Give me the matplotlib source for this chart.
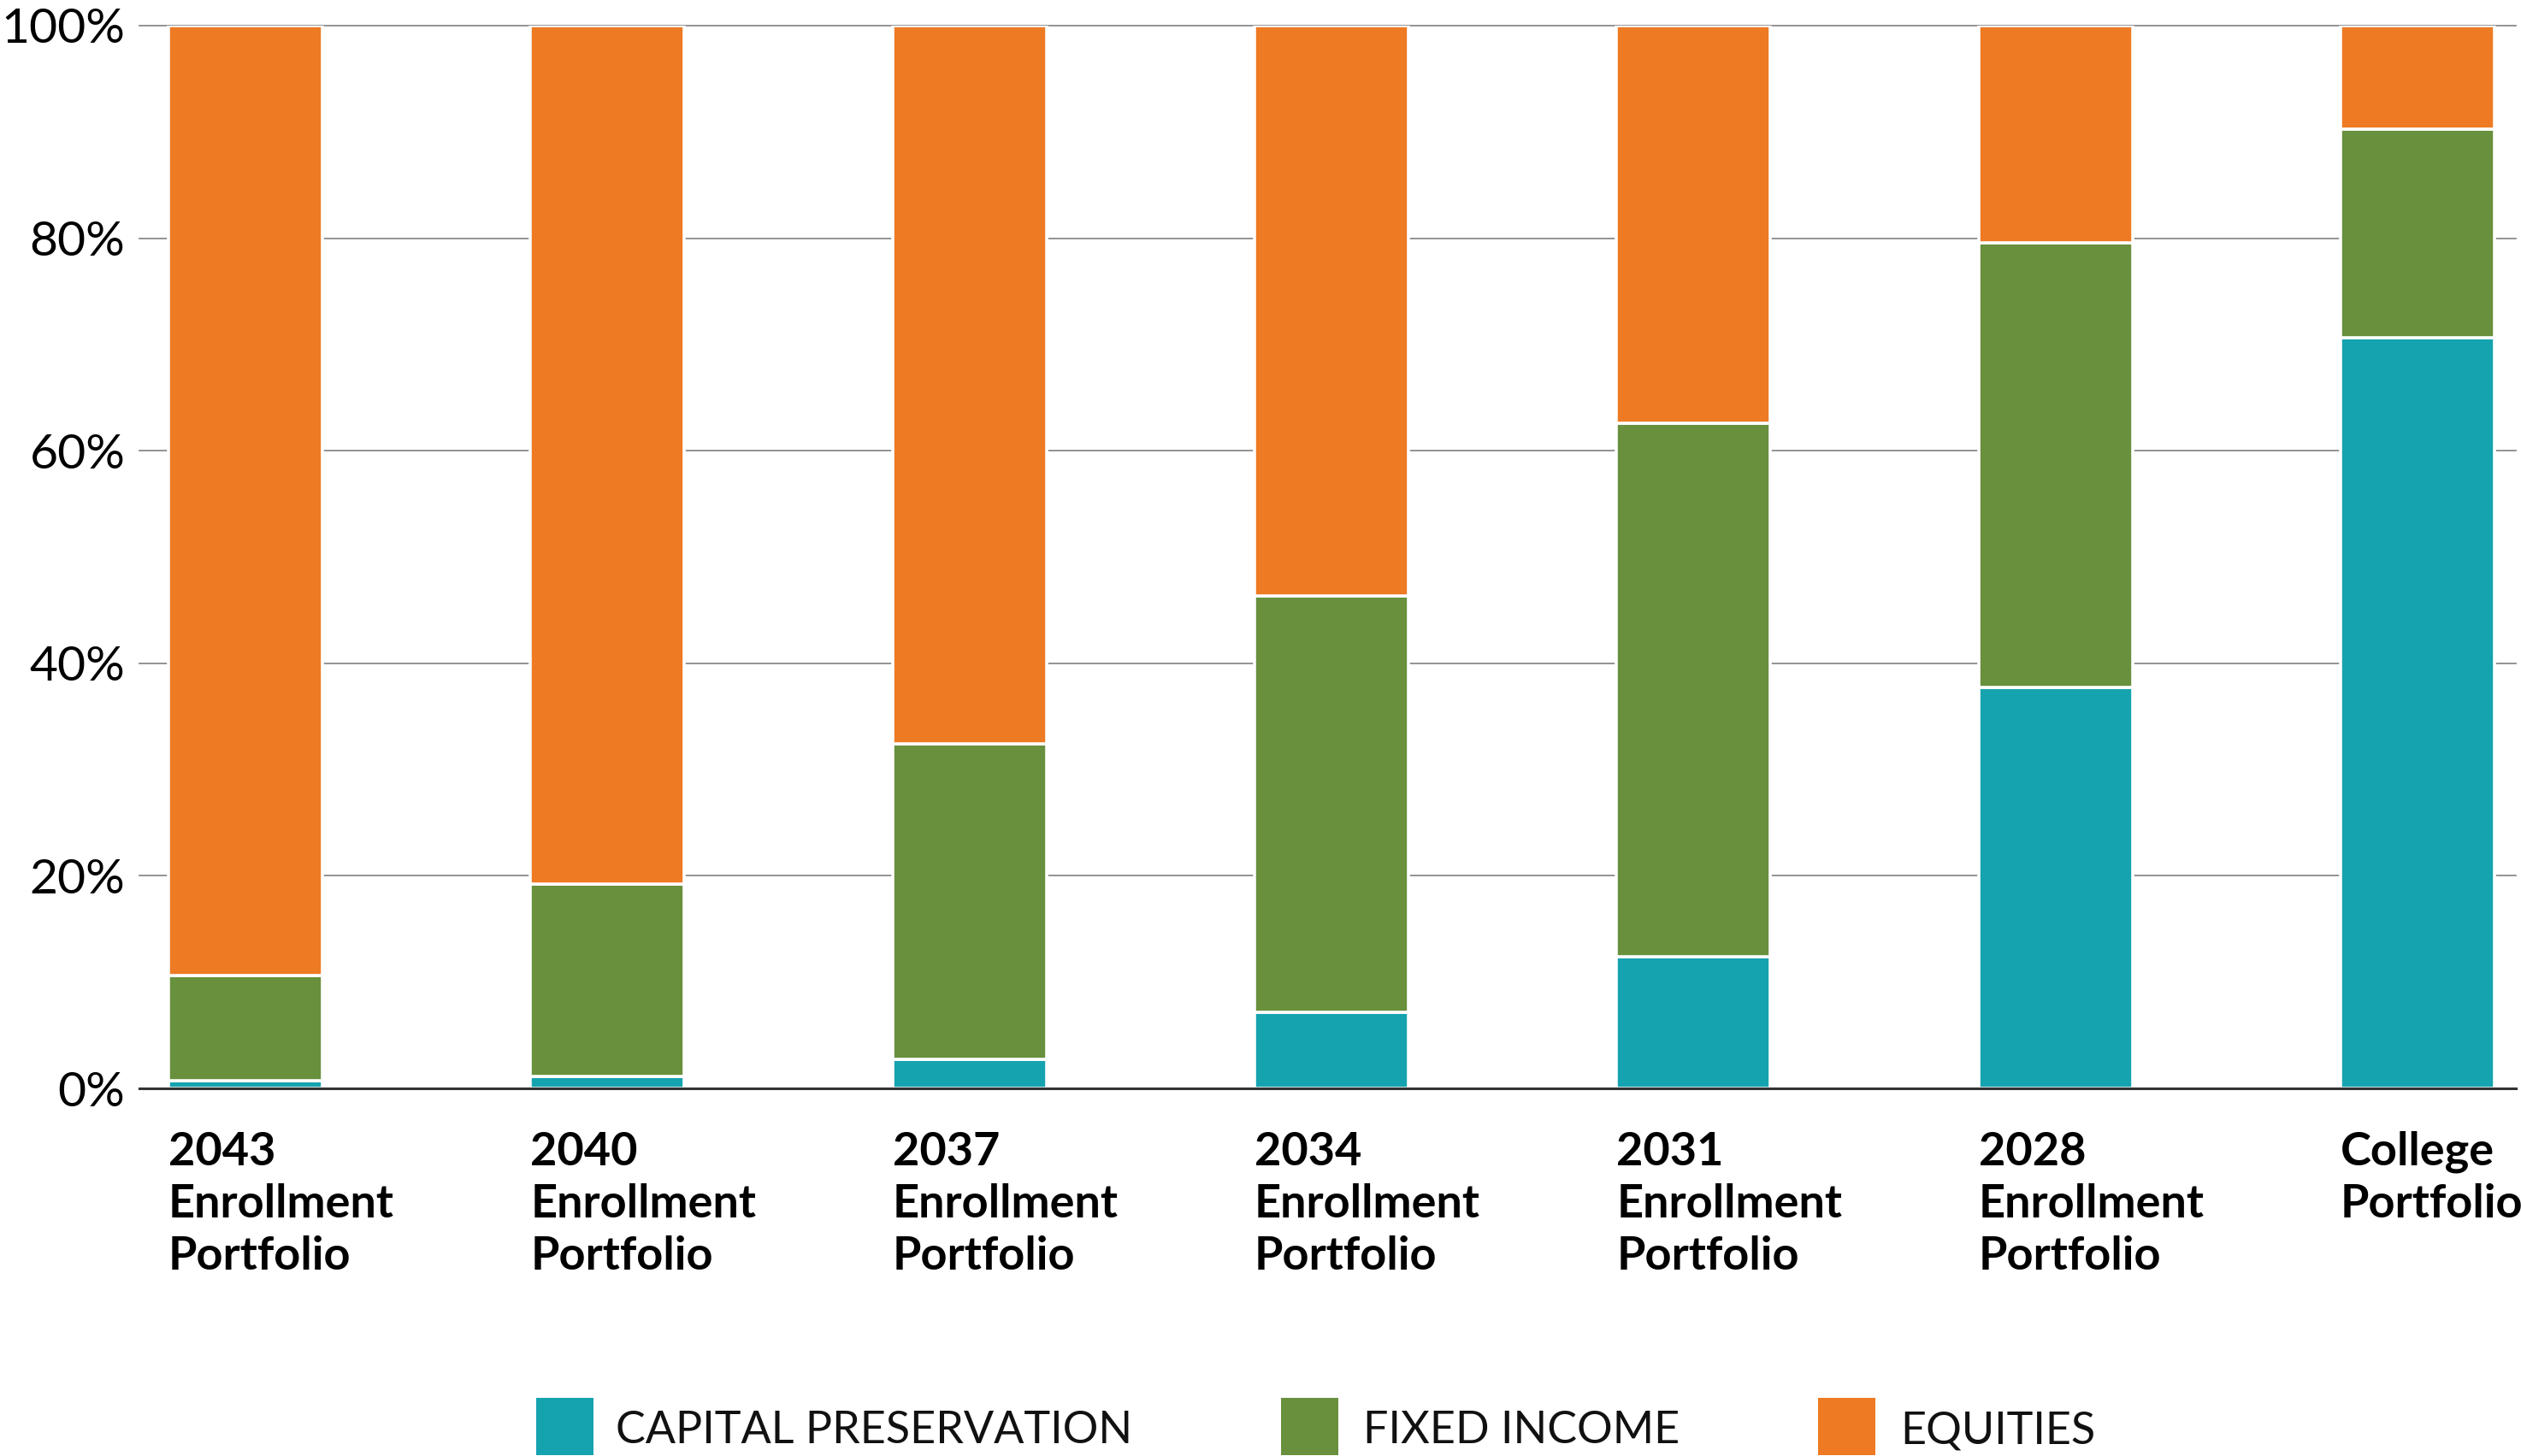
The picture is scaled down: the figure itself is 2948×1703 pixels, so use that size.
import numpy as np
import matplotlib
matplotlib.use("Agg")
import matplotlib.pyplot as plt
from matplotlib.patches import Rectangle

plt.rcParams['font.family'] = ['Lato', 'DejaVu Sans']

# == Data == #
portfolios = ["2043\nEnrollment\nPortfolio", "2040\nEnrollment\nPortfolio",
              "2037\nEnrollment\nPortfolio", "2034\nEnrollment\nPortfolio",
              "2031\nEnrollment\nPortfolio", "2028\nEnrollment\nPortfolio",
              "College\nPortfolio"]
capital_preservation = [0.7, 1.1, 2.7, 7.2, 12.4, 37.7, 70.6]
fixed_income = [9.9, 18.1, 29.7, 39.1, 50.2, 41.9, 19.7]
equities = [89.4, 80.8, 67.6, 53.7, 37.4, 20.4, 9.7]
series_names = ["CAPITAL PRESERVATION", "FIXED INCOME", "EQUITIES"]
colors = ["#16A3B0", "#68903D", "#EE7A24"]
yticks = [0, 20, 40, 60, 80, 100]

W, H = 2948, 1703
fig = plt.figure(figsize=(W / 100, H / 100), dpi=100)
ax = fig.add_axes([163 / W, 1 - 1273 / H, (2942 - 163) / W, (1273 - 30) / H])

x = np.arange(len(portfolios))
width = 0.425

# gridlines behind bars
for t in yticks[1:]:
    ax.axhline(t, color="#8a8a8a", lw=1.3, zorder=0, clip_on=False)
ax.axhline(0, color="#333333", lw=2.2, zorder=3, clip_on=False)

bottom = np.zeros(len(x))
for vals, c in zip((capital_preservation, fixed_income, equities), colors):
    ax.bar(x, vals, width, bottom=bottom, color=c, edgecolor="white",
           linewidth=2.6, zorder=2)
    bottom += np.array(vals)

ax.set_xlim(-0.293, 6.272)
ax.set_ylim(0, 100)

for s in ax.spines.values():
    s.set_visible(False)

ax.set_yticks(yticks)
ax.set_yticklabels(["{}%".format(t) for t in yticks], fontsize=41)
ax.tick_params(axis='y', length=0, pad=12)

ax.set_xticks(x - width / 2)
ax.set_xticklabels(portfolios, fontsize=39, fontweight='bold', ha='left',
                   linespacing=1.3)
ax.tick_params(axis='x', length=0, pad=36)

# == Legend == #
sq_x = [627, 1498, 2126]
txt_x = [720, 1594, 2222]
for name, c, sx, tx in zip(series_names, colors, sq_x, txt_x):
    fig.add_artist(Rectangle((sx / W, 1 - 1702 / H), 67 / W, 67 / H,
                             transform=fig.transFigure, color=c, lw=0))
    fig.text(tx / W, 1 - 1688 / H, name, fontsize=37.5, fontweight='normal',
             color='#111111', va='baseline', ha='left')

fig.savefig("out.png", dpi=100)
